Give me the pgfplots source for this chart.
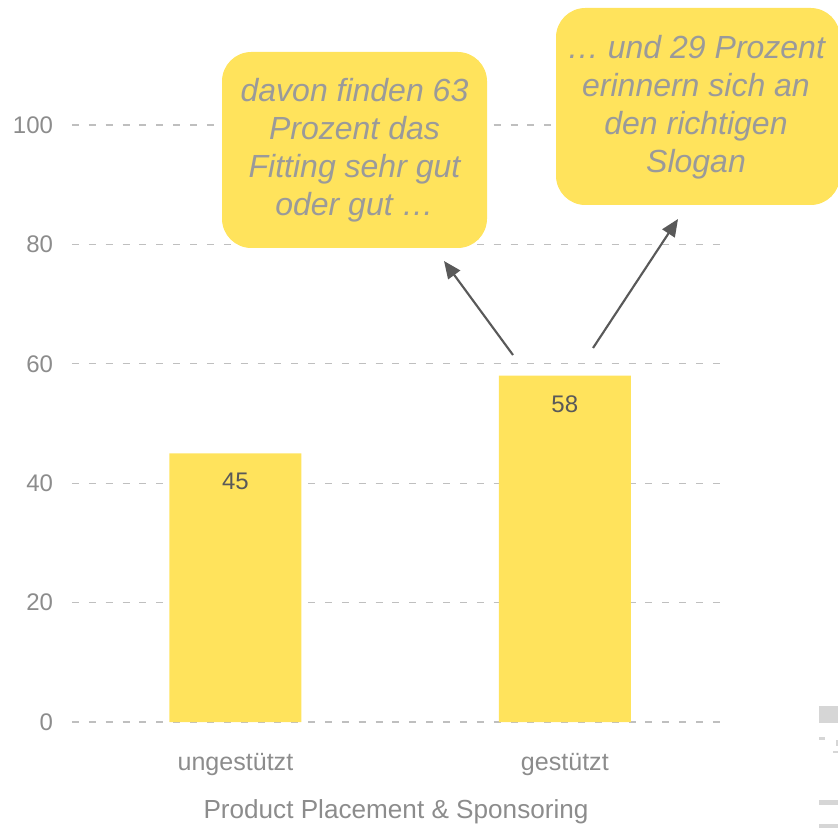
\documentclass[border=0pt]{standalone}
\usepackage{fontspec}
\setmainfont{Liberation Sans}
\usepackage{pgfplots}
\pgfplotsset{compat=1.18}
\usetikzlibrary{arrows.meta}
\definecolor{baryellow}{HTML}{FFE35C}
\definecolor{tickgray}{HTML}{8C8C8C}
\definecolor{labgray}{HTML}{595959}
\definecolor{boxtext}{HTML}{9A9A9A}
\definecolor{gridgray}{HTML}{BFBFBF}
\definecolor{junk}{HTML}{D6D6D6}
\begin{document}
\begin{tikzpicture}
\begin{scope}[x=0.75pt,y=-0.75pt,yshift=621pt]
\useasboundingbox (0,0) rectangle (838,828);
\end{scope}
\begin{axis}[
  at={(54pt,79.5pt)}, anchor=south west,
  scale only axis, width=486pt, height=447.75pt,
  xmin=-0.496, xmax=1.471, ymin=0, ymax=100,
  axis line style={draw=none}, tick style={draw=none},
  ytick={0,20,40,60,80,100},
  ymajorgrids,
  grid style={gridgray, dash pattern=on 5.25pt off 7.4pt, line width=1pt},
  xtick={0,1}, xticklabels={ungestützt,gestützt},
  ybar, bar width=99pt,
  nodes near coords,
  every node near coord/.append style={anchor=center, yshift=-21pt, text=labgray, font=\fontsize{18}{21}\selectfont},
  ticklabel style={font=\fontsize{18}{21}\selectfont, text=tickgray},
  yticklabel style={anchor=east, xshift=-10.75pt},
  xticklabel style={anchor=center, yshift=-27.5pt, font=\fontsize{18.8}{21}\selectfont},
  xlabel={Product Placement \& Sponsoring},
  xlabel style={at={(axis description cs:0.5,0)}, anchor=center, yshift=-67.5pt, font=\fontsize{19.6}{22}\selectfont, text=tickgray},
  /pgf/number format/assume math mode=true,
  clip=false,
]
\addplot[fill=baryellow, draw=none] coordinates {(0,45) (1,58)};
\end{axis}
\begin{scope}[x=0.75pt,y=-0.75pt,yshift=621pt]
\clip (0,0) rectangle (838,828);
\fill[baryellow, rounded corners=22pt] (222,52) rectangle (487,248);
\node[text=boxtext, align=center, font=\fontsize{24}{28.5}\selectfont\itshape] at (354.5,150)
  {davon finden 63\\Prozent das\\Fitting sehr gut\\oder gut …};
\fill[baryellow, rounded corners=22pt] (556,8) rectangle (840,205);
\node[text=boxtext, align=center, font=\fontsize{24}{28.5}\selectfont\itshape] at (696,107)
  {… und 29 Prozent\\erinnern sich an\\den richtigen\\Slogan};
\draw[labgray, line width=1.6pt, -{Triangle[length=13pt, width=11pt]}] (513,355) -- (444,261);
\draw[labgray, line width=1.6pt, -{Triangle[length=13pt, width=11pt]}] (593,348) -- (678,219);
\fill[junk] (819,706) rectangle (838,723);
\fill[junk] (819,737) rectangle (825,740);
\fill[junk] (833,751) rectangle (838,753);
\fill[junk] (836,740) rectangle (838,746);
\fill[junk] (819,800) rectangle (838,805);
\fill[junk] (819,824) rectangle (838,828);
\end{scope}
\end{tikzpicture}
\end{document}
